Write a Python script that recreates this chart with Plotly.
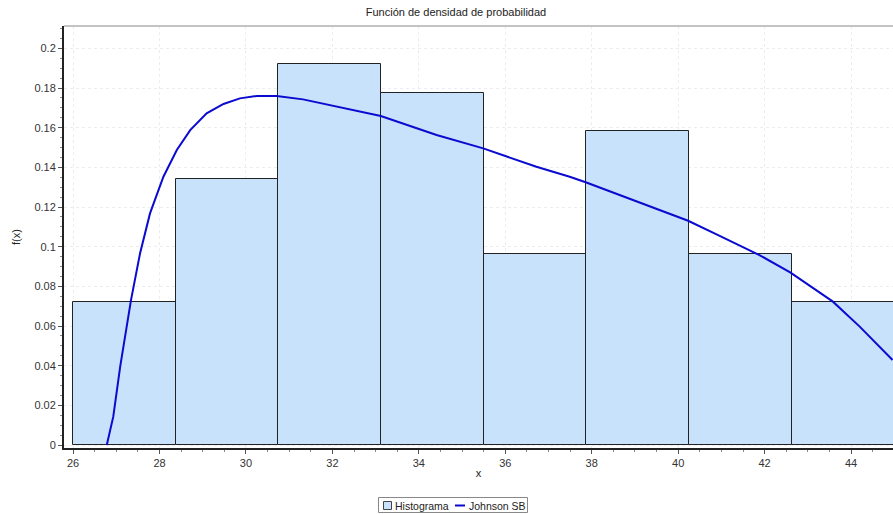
import plotly.graph_objects as go

# ---- data ----
bin_edges = [26.0, 28.375, 30.75, 33.125, 35.5, 37.875, 40.25, 42.625, 45.0]
bin_heights = [0.0723, 0.1343, 0.1921, 0.1777, 0.0962, 0.1585, 0.0962, 0.0723]

curve_x = [26.78, 26.93, 27.09, 27.24, 27.34, 27.55, 27.78, 28.09, 28.40, 28.71,
           29.09, 29.48, 29.86, 30.25, 30.50, 30.71, 31.32, 32.10, 33.12, 34.41,
           35.49, 36.72, 37.49, 37.86, 39.34, 40.23, 40.96, 41.65, 41.88, 42.60,
           43.58, 44.20, 44.96]
curve_y = [0.0, 0.0143, 0.0395, 0.0597, 0.0731, 0.0967, 0.1168, 0.1353, 0.1488, 0.1588,
           0.1673, 0.1720, 0.1748, 0.1760, 0.1762, 0.1760, 0.1743, 0.1706, 0.1659, 0.1563,
           0.1496, 0.1403, 0.1353, 0.1325, 0.1202, 0.1131, 0.1055, 0.0983, 0.0958, 0.0869,
           0.0723, 0.0597, 0.0429]

x_ticks = [26, 28, 30, 32, 34, 36, 38, 40, 42, 44]
y_ticks = [0, 0.02, 0.04, 0.06, 0.08, 0.1, 0.12, 0.14, 0.16, 0.18, 0.2]
y_tick_labels = ["0", "0.02", "0.04", "0.06", "0.08", "0.1", "0.12", "0.14", "0.16", "0.18", "0.2"]

title_text = "Función de densidad de probabilidad"
x_title = "x"
y_title = "f(x)"
bar_name = "Histograma"
curve_name = "Johnson SB"

# ---- build ----
centers = [(a + b) / 2 for a, b in zip(bin_edges[:-1], bin_edges[1:])]
widths = [b - a for a, b in zip(bin_edges[:-1], bin_edges[1:])]

FONT = "Liberation Sans, Arial, sans-serif"
W, H = 893, 514
BAR_FILL = "#c8e2fb"
CURVE_COL = "#0a0ad0"

fig = go.Figure()
fig.add_trace(go.Bar(
    x=centers, y=bin_heights, width=widths, name=bar_name, showlegend=False,
    marker=dict(color=BAR_FILL, line=dict(color="#222222", width=1)),
))
fig.add_trace(go.Scatter(
    x=curve_x, y=curve_y, mode="lines", name=curve_name, showlegend=False,
    line=dict(color=CURVE_COL, width=2),
))

fig.update_layout(
    width=W, height=H,
    margin=dict(l=64, r=0, t=26, b=66, autoexpand=False),
    paper_bgcolor="white", plot_bgcolor="white",
    font=dict(family=FONT, size=11, color="#333333"),
    title=dict(text=title_text, xref="container", x=456 / W, xanchor="center",
               y=1 - 12 / H, yanchor="middle", font=dict(size=11, color="#222222")),
    bargap=0,
    showlegend=False,
)

fig.update_xaxes(
    range=[25.79, 44.97], tickmode="array", tickvals=x_ticks, automargin=False,
    showline=True, linecolor="#222222", linewidth=2,
    ticks="outside", ticklen=4, tickcolor="#555555",
    showgrid=True, gridcolor="#ededed", griddash="dot", gridwidth=1,
    zeroline=False,
    minor=dict(dtick=0.5, ticks="outside", ticklen=2, tickcolor="#888888", showgrid=False),
    title=dict(text=x_title, standoff=1, font=dict(size=11, color="#222222")),
    tickfont=dict(size=11, color="#333333"),
)
fig.update_yaxes(
    range=[-0.0015, 0.2113], tickmode="array", tickvals=y_ticks, ticktext=y_tick_labels,
    automargin=False,
    showline=True, linecolor="#222222", linewidth=2,
    ticks="outside", ticklen=4, tickcolor="#555555",
    showgrid=True, gridcolor="#ededed", griddash="dot", gridwidth=1,
    zeroline=False,
    minor=dict(dtick=0.005, ticks="outside", ticklen=2, tickcolor="#888888", showgrid=False),
    title=dict(text=y_title, standoff=12, font=dict(size=11, color="#222222")),
    tickfont=dict(size=11, color="#333333"),
)

# top border of the plot frame
fig.add_shape(type="line", xref="paper", yref="paper", x0=0, x1=1, y0=1, y1=1,
              line=dict(color="#888888", width=1))


# ---- compact legend box drawn in pixel space below the plot ----
def px_x(p):
    return (p - 64) / (W - 64)


def px_y(p):
    # paper y: 0 at plot bottom (pixel 448), 1 at plot top (pixel 26)
    return (448 - p) / (448 - 26)


fig.add_shape(type="rect", xref="paper", yref="paper",
              x0=px_x(378.5), x1=px_x(527.5), y0=px_y(512.5), y1=px_y(497.5),
              line=dict(color="#888888", width=1), fillcolor="white")
fig.add_shape(type="rect", xref="paper", yref="paper",
              x0=px_x(383.5), x1=px_x(391.5), y0=px_y(509.5), y1=px_y(501.5),
              line=dict(color="#444444", width=1), fillcolor=BAR_FILL)
fig.add_shape(type="line", xref="paper", yref="paper",
              x0=px_x(455), x1=px_x(465), y0=px_y(505.5), y1=px_y(505.5),
              line=dict(color=CURVE_COL, width=2))
fig.add_annotation(text=bar_name, xref="paper", yref="paper", showarrow=False,
                   x=px_x(393), y=px_y(505.5), xanchor="left", yanchor="middle",
                   font=dict(size=10.5, color="#222222"))
fig.add_annotation(text=curve_name, xref="paper", yref="paper", showarrow=False,
                   x=px_x(466.5), y=px_y(505.5), xanchor="left", yanchor="middle",
                   font=dict(size=10.5, color="#222222"))

fig.write_html(
    "out.html",
    config={"displayModeBar": False},
    post_script="document.body.style.margin='0';document.body.style.overflow='hidden';",
)
